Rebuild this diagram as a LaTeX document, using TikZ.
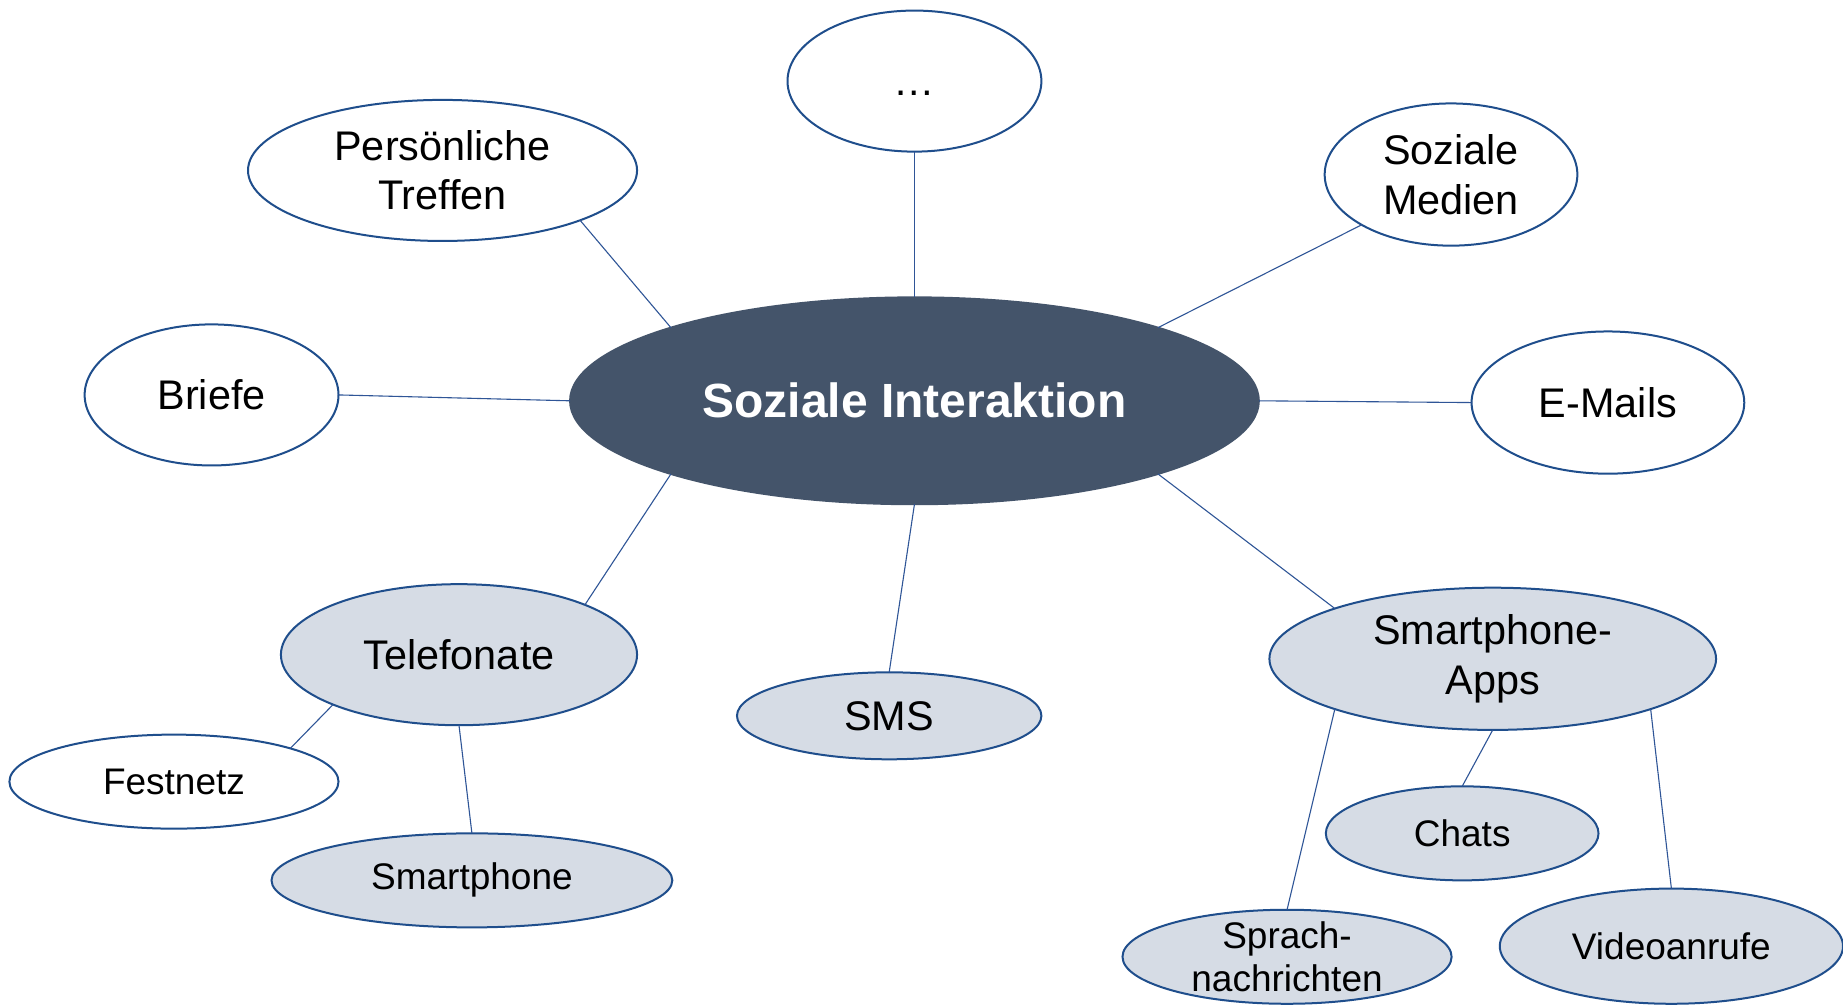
\documentclass[tikz,border=0pt]{standalone}
\usepackage{fontspec}
\setmainfont{Liberation Sans}
\usetikzlibrary{shapes.geometric}
\definecolor{outl}{HTML}{1F4E8C}
\definecolor{conn}{HTML}{2F5597}
\definecolor{lfill}{HTML}{D6DCE5}
\definecolor{dfill}{HTML}{44546A}
\tikzset{
  ell/.style 2 args={ellipse, draw=outl, line width=1pt, inner sep=0pt, outer sep=0pt,
    minimum width={2*#1*0.58769pt}, minimum height={2*#2*0.58769pt}, align=center, text=black},
  wbub/.style={fill=white},
  gbub/.style={fill=lfill},
  bigtxt/.style={font=\fontsize{20.7}{24.7}\selectfont},
  smalltxt/.style={font=\fontsize{18.5}{21.2}\selectfont},
  con/.style={draw=conn, line width=0.55pt}
}
\begin{document}
\begin{tikzpicture}[x=0.58769pt, y=-0.58769pt]
\clip (0,0) rectangle (1568,854.2);
\fill[white] (0,0) rectangle (1568,854.2);
% nodes
\node[ell={293}{88}, fill=dfill, draw=dfill, text=white, font=\fontsize{24}{28}\selectfont\bfseries] (central) at (778,341) {Soziale Interaktion};
\node[ell={108}{60}, wbub, bigtxt] (dots) at (778,69) {\raisebox{-7pt}[0pt][0pt]{…}};
\node[ell={165.5}{60}, wbub, bigtxt] (pers) at (376.5,145) {Persönliche\\Treffen};
\node[ell={107.5}{60.5}, wbub, bigtxt] (medien) at (1234.5,148.5) {Soziale\\Medien};
\node[ell={108}{60}, wbub, bigtxt] (briefe) at (180,336) {Briefe};
\node[ell={116}{60.5}, wbub, bigtxt] (emails) at (1368,342.5) {E-Mails};
\node[ell={151.5}{60}, gbub, bigtxt] (tele) at (390.5,557) {Telefonate};
\node[ell={129.5}{37}, gbub, bigtxt] (sms) at (756.5,609) {SMS};
\node[ell={190}{60.5}, gbub, bigtxt] (apps) at (1270,560.5) {Smartphone-\\Apps};
\node[ell={140}{40}, wbub, smalltxt] (fest) at (148,665) {Festnetz};
\node[ell={170.5}{40}, gbub, smalltxt] (smart) at (401.5,749) {\raisebox{-2pt}{Smartphone}};
\node[ell={116}{40}, gbub, smalltxt] (chats) at (1244,709) {Chats};
\node[ell={140}{40}, gbub, smalltxt, inner ysep=-5pt] (sprach) at (1095,814) {Sprach-\\nachrichten};
\node[ell={146}{49}, gbub, smalltxt] (video) at (1422,805) {Videoanrufe};
% connectors
\draw[con] (dots.south) -- (central.north);
\draw[con] (pers.south east) -- (central.north west);
\draw[con] (medien.south west) -- (central.north east);
\draw[con] (briefe.east) -- (central.west);
\draw[con] (emails.west) -- (central.east);
\draw[con] (tele.north east) -- (central.south west);
\draw[con] (sms.north) -- (central.south);
\draw[con] (apps.north west) -- (central.south east);
\draw[con] (fest.north east) -- (tele.south west);
\draw[con] (smart.north) -- (tele.south);
\draw[con] (chats.north) -- (apps.south);
\draw[con] (sprach.north) -- (apps.south west);
\draw[con] (video.north) -- (apps.south east);
\end{tikzpicture}
\end{document}
